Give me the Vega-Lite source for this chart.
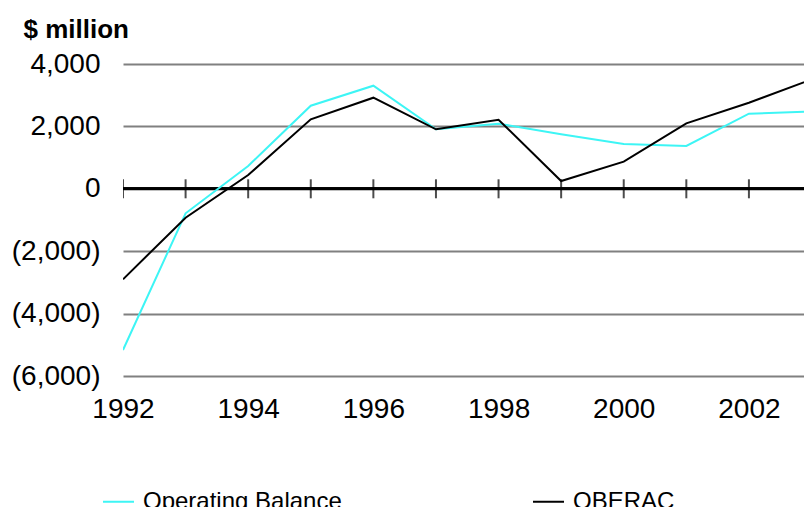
{
  "$schema": "https://vega.github.io/schema/vega-lite/v6.json",
  "width": 681,
  "height": 312,
  "autosize": {"type": "none"},
  "padding": {"left": 123, "top": 64, "right": 0, "bottom": 131},
  "background": "white",
  "config": {"view": {"stroke": null}, "font": "Liberation Sans"},
  "data": {
    "values": [
      {"year": 1992, "ob": -5166, "oberac": -2900},
      {"year": 1993, "ob": -785, "oberac": -926},
      {"year": 1994, "ob": 731, "oberac": 442},
      {"year": 1995, "ob": 2664, "oberac": 2228},
      {"year": 1996, "ob": 3305, "oberac": 2920},
      {"year": 1997, "ob": 1907, "oberac": 1907},
      {"year": 1998, "ob": 2087, "oberac": 2215},
      {"year": 1999, "ob": 1747, "oberac": 250},
      {"year": 2000, "ob": 1436, "oberac": 869},
      {"year": 2001, "ob": 1372, "oberac": 2099},
      {"year": 2002, "ob": 2407, "oberac": 2760},
      {"year": 2003, "ob": 2480, "oberac": 3505}
    ]
  },
  "encoding": {
    "x": {
      "field": "year",
      "type": "quantitative",
      "scale": {"domain": [1992, 2002.88], "nice": false, "zero": false},
      "axis": {
        "values": [1992, 1994, 1996, 1998, 2000, 2002],
        "format": "d",
        "ticks": false,
        "domain": false,
        "grid": false,
        "labelFontSize": 28,
        "labelPadding": 19,
        "labelColor": "black",
        "labelFlush": false,
        "labelOverlap": false,
        "title": null
      }
    }
  },
  "layer": [
    {
      "mark": {"type": "rule", "color": "black", "strokeWidth": 2},
      "encoding": {
        "x": null,
        "y": {
          "datum": 0,
          "type": "quantitative",
          "scale": {"domain": [-6000, 4000], "nice": false},
          "axis": {
            "values": [-6000, -4000, -2000, 0, 2000, 4000],
            "labelExpr": "datum.value < 0 ? '(' + format(-datum.value, ',') + ')' : format(datum.value, ',')",
            "ticks": false,
            "domain": false,
            "grid": true,
            "gridColor": "#808080",
            "gridWidth": 2,
            "labelFontSize": 28,
            "labelPadding": 23,
            "labelColor": "black",
            "labelOverlap": false,
            "labelFlush": false,
            "title": "$ million",
            "titleAngle": 0,
            "titleX": -100,
            "titleY": -27,
            "titleAlign": "left",
            "titleBaseline": "alphabetic",
            "titleFontSize": 26,
            "titleFontWeight": "bold",
            "titleColor": "black"
          }
        }
      }
    },
    {
      "mark": {"type": "tick", "orient": "vertical", "size": 19, "thickness": 2, "color": "black", "clip": true},
      "encoding": {
        "y": {"datum": 0, "type": "quantitative"}
      }
    },
    {
      "mark": {"type": "line", "strokeWidth": 2, "clip": true},
      "encoding": {
        "y": {"field": "ob", "type": "quantitative"},
        "color": {
          "datum": "Operating Balance",
          "type": "nominal",
          "scale": {"domain": ["Operating Balance", "OBERAC"], "range": ["#3DF5F5", "#000000"]},
          "legend": {
            "orient": "none",
            "legendX": -21,
            "legendY": 421,
            "direction": "horizontal",
            "columns": 2,
            "columnPadding": 187,
            "symbolType": "stroke",
            "symbolSize": 961,
            "symbolStrokeWidth": 2,
            "labelFontSize": 24,
            "labelOffset": 8,
            "labelColor": "black",
            "labelLimit": 400,
            "padding": 0,
            "title": null
          }
        }
      }
    },
    {
      "mark": {"type": "line", "strokeWidth": 2, "clip": true},
      "encoding": {
        "y": {"field": "oberac", "type": "quantitative"},
        "color": {"datum": "OBERAC", "type": "nominal"}
      }
    }
  ]
}
